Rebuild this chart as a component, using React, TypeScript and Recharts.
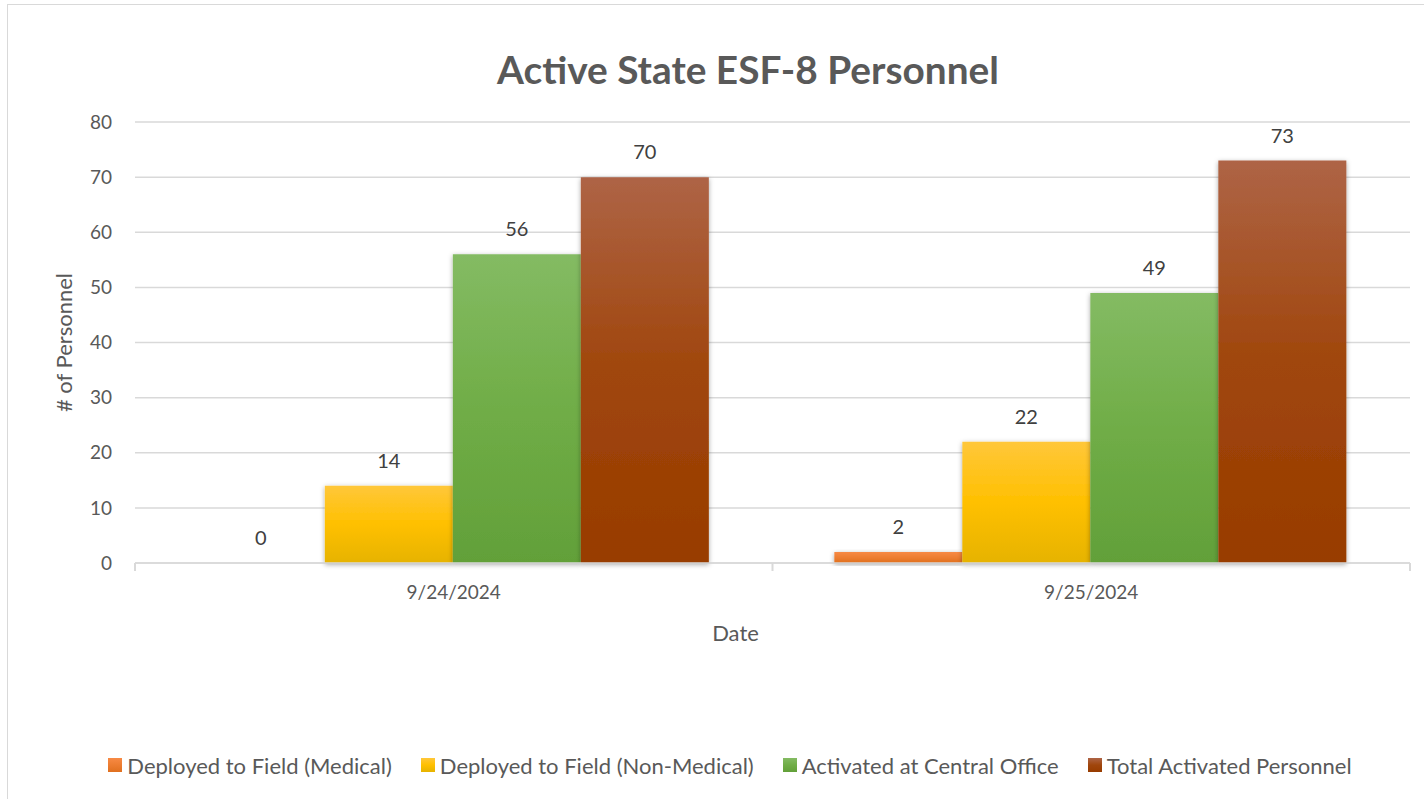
import { BarChart, Bar, XAxis, YAxis, CartesianGrid, Legend, LabelList } from "recharts";

const dates = ["9/24/2024", "9/25/2024"];
const deployedMedical = [0, 2];
const deployedNonMedical = [14, 22];
const centralOffice = [56, 49];
const totalActivated = [70, 73];
const yTicks = [0, 10, 20, 30, 40, 50, 60, 70, 80];

const data = dates.map((date, i) => ({
  date,
  medical: deployedMedical[i],
  nonMedical: deployedNonMedical[i],
  central: centralOffice[i],
  total: totalActivated[i],
}));

const series = [
  { key: "medical", name: "Deployed to Field (Medical)", id: "gOrange", stops: ["#f78a45", "#ed7d31", "#e0701f"] },
  { key: "nonMedical", name: "Deployed to Field (Non-Medical)", id: "gYellow", stops: ["#ffc73a", "#ffc000", "#e6b300"] },
  { key: "central", name: "Activated at Central Office", id: "gGreen", stops: ["#84bb63", "#70ad47", "#62a039"] },
  { key: "total", name: "Total Activated Personnel", id: "gBrown", stops: ["#ae6446", "#a0460c", "#983c00"] },
];

const font = "Lato, 'Open Sans', sans-serif";
const textColor = "#595959";
const lineColor = "#d9d9d9";

const renderLegend = (props: any) => {
  const items = [...props.payload].sort(
    (a: any, b: any) => series.findIndex((s) => s.name === a.value) - series.findIndex((s) => s.name === b.value)
  );
  return (
    <div
      style={{
        display: "flex",
        justifyContent: "center",
        alignItems: "center",
        gap: 29,
        height: 24,
        fontFamily: font,
        fontSize: 22,
        color: textColor,
      }}
    >
      {items.map((entry: any) => (
        <span key={entry.value} style={{ display: "flex", alignItems: "center", gap: 5 }}>
          <svg width={14} height={14}>
            <rect width={14} height={14} fill={entry.color} />
          </svg>
          <span>{entry.value}</span>
        </span>
      ))}
    </div>
  );
};

const DateTick = (props: any) => {
  const { x, y, payload, index, visibleTicksCount } = props;
  const half = payload.offset || 0;
  const axisY = y - 17;
  return (
    <g>
      <line x1={x - half} y1={axisY} x2={x - half} y2={axisY + 8} stroke={lineColor} strokeWidth={2} />
      {index === visibleTicksCount - 1 && (
        <line x1={x + half} y1={axisY} x2={x + half} y2={axisY + 8} stroke={lineColor} strokeWidth={2} />
      )}
      <text x={x} y={y} dy={19} textAnchor="middle" fill={textColor} fontSize={19} fontFamily={font}>
        {payload.value}
      </text>
    </g>
  );
};

const ValueLabel = (props: any) => {
  const { x, y, width, value } = props;
  return (
    <text x={x + width / 2} y={y - 18} textAnchor="middle" fill="#404040" fontSize={20} fontFamily={font}>
      {value}
    </text>
  );
};

export default function App() {
  return (
    <div style={{ position: "absolute", left: 0, top: 0, width: 1424, height: 799, overflow: "hidden", background: "#fff" }}>
      <div
        style={{
          position: "absolute",
          left: 7,
          top: 4,
          width: 1440,
          height: 820,
          border: "1.5px solid #d9d9d9",
        }}
      />
      <div
        style={{
          position: "absolute",
          left: 398,
          top: 46,
          width: 700,
          textAlign: "center",
          fontFamily: font,
          fontWeight: "bold",
          fontSize: 38.8,
          lineHeight: "46px",
          color: textColor,
        }}
      >
        Active State ESF-8 Personnel
      </div>
      <BarChart
        width={1424}
        height={799}
        data={data}
        margin={{ top: 122, right: 14, left: 0, bottom: 127 }}
        barCategoryGap="9.7%"
        barGap={0}
        style={{ position: "absolute", left: 0, top: 0 }}
      >
        <defs>
          {series.map((s) => (
            <linearGradient key={s.id} id={s.id} x1="0" y1="0" x2="0" y2="1">
              <stop offset="0%" stopColor={s.stops[0]} />
              <stop offset="50%" stopColor={s.stops[1]} />
              <stop offset="100%" stopColor={s.stops[2]} />
            </linearGradient>
          ))}
          <filter id="barShadow" x="-20%" y="-20%" width="140%" height="140%">
            <feDropShadow dx="0" dy="1.5" stdDeviation="2.5" floodColor="#000" floodOpacity="0.35" />
          </filter>
        </defs>
        <CartesianGrid vertical={false} stroke={lineColor} strokeWidth={1.5} />
        <XAxis
          dataKey="date"
          height={85}
          axisLine={{ stroke: lineColor, strokeWidth: 1.5 }}
          tickLine={false}
          tickSize={6}
          tickMargin={11}
          tick={<DateTick />}
          label={{
            value: "Date",
            position: "insideBottom",
            offset: 7,
            dx: -37,
            fill: textColor,
            fontSize: 22,
            fontFamily: font,
          }}
        />
        <YAxis
          width={135}
          domain={[0, 80]}
          ticks={yTicks}
          axisLine={false}
          tickLine={false}
          tickSize={6}
          tickMargin={17}
          tick={{ fill: textColor, fontSize: 19, fontFamily: font }}
          label={{
            value: "# of Personnel",
            angle: -90,
            position: "center",
            dx: -3,
            fill: textColor,
            fontSize: 22,
            fontFamily: font,
          }}
        />
        <Legend verticalAlign="bottom" content={renderLegend} wrapperStyle={{ top: 753, left: 25, width: 1410 }} />
        {series.map((s) => (
          <Bar
            key={s.key}
            dataKey={s.key}
            name={s.name}
            fill={`url(#${s.id})`}
            filter="url(#barShadow)"
            minPointSize={0.1}
            isAnimationActive={false}
          >
            <LabelList dataKey={s.key} content={<ValueLabel />} />
          </Bar>
        ))}
      </BarChart>
    </div>
  );
}
